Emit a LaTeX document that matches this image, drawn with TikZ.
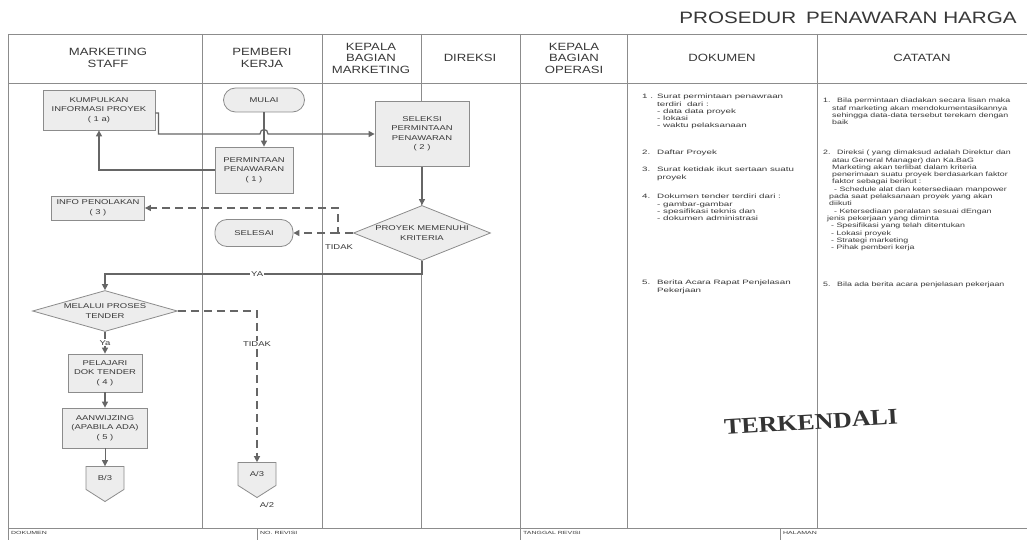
\documentclass[tikz,border=0pt]{standalone}
\usepackage{fontspec}
\setmainfont{Liberation Sans}
\newfontfamily\boxsans{Liberation Sans}[FakeStretch=1.35]
\newfontfamily\headsans{Liberation Sans}[FakeStretch=1.25]
\newfontfamily\notesans{Liberation Sans}[FakeStretch=1.55]
\newfontfamily\catsans{Liberation Sans}[FakeStretch=1.4]
\newfontfamily\stampserif{Liberation Serif}[FakeStretch=1.15]
\usetikzlibrary{shapes.geometric,shapes.symbols,arrows.meta}
\definecolor{rulegray}{gray}{0.55}
\definecolor{flowgray}{gray}{0.4}
\definecolor{fillgray}{gray}{0.93}
\definecolor{inkgray}{gray}{0.22}
\newcommand{\numb}[2][15pt]{\makebox[#1][l]{#2}}
\newcommand{\hang}[1][15pt]{\hspace*{#1}}

\begin{document}
\begin{tikzpicture}[x=1pt, y=-1pt,
    every node/.style={text=inkgray, font={\boxsans\fontsize{7}{9.5}\selectfont}},
    grid/.style={draw=rulegray, line width=0.8pt},
    proc/.style={draw=rulegray, fill=fillgray, line width=0.8pt, align=center, inner sep=1pt},
    term/.style={proc, rounded corners=12pt},
    decide/.style={proc, diamond, inner sep=0pt},
    offpage/.style={proc, signal, signal to=south, signal pointer angle=115, minimum width=38pt, minimum height=28pt},
    flow/.style={draw=flowgray, line width=1.2pt, -{Triangle[width=6pt,length=6pt]}},
    dashflow/.style={flow, dash pattern=on 8pt off 5pt},
    lbl/.style={fill=white, inner sep=1pt},
    head/.style={align=center, font={\headsans\fontsize{10.5}{11.5}\selectfont}},
    note/.style={anchor=north west, align=left, inner sep=0pt, font={\notesans\fontsize{6.3}{7.3}\selectfont}},
    catnote/.style={note, font={\catsans\fontsize{6.3}{7.3}\selectfont}},
    foot/.style={anchor=west, inner sep=0pt, font={\notesans\fontsize{4.5}{5}\selectfont}}
  ]
  \clip (0,0) rectangle (1027,540);
  \fill[white] (0,0) rectangle (1027,540);

  % kolom tabel
  \draw[grid] (8,34) -- (1027,34) (8,83) -- (1027,83) (8,528) -- (1027,528) (8,34) -- (8,540);
  \foreach \x in {202,322,421,520,627,817}
    \draw[grid] (\x,34) -- (\x,528);
  \foreach \x in {257,520,780}
    \draw[grid] (\x,528) -- (\x,540);

  \node[font={\headsans\fontsize{16.5}{17}\selectfont}] (judul) at (848,18) {PROSEDUR\hspace{0.6em}PENAWARAN HARGA};
  \foreach \cx/\nm/\txt in {108/hstaff/{MARKETING\\STAFF}, 262/hpemberi/{PEMBERI\\KERJA},
      371/hkabagm/{KEPALA\\BAGIAN\\MARKETING}, 470/hdireksi/DIREKSI, 574/hkabago/{KEPALA\\BAGIAN\\OPERASI},
      722/hdok/DOKUMEN, 922/hcat/CATATAN}
    \node[head] (\nm) at (\cx,58) {\txt};

  \node[foot] (fdok) at (11,533) {DOKUMEN};
  \node[foot] (frev) at (260,533) {NO. REVISI};
  \node[foot] (ftgl) at (523,533) {TANGGAL REVISI};
  \node[foot] (fhal) at (783,533) {HALAMAN};

  % bagan alir
  \node[proc, minimum width=112pt, minimum height=40pt] (kumpul) at (99,110) {KUMPULKAN\\INFORMASI PROYEK\\( 1 a)};
  \node[term, minimum width=81pt, minimum height=24pt] (mulai) at (264,100) {MULAI};
  \node[proc, minimum width=78pt, minimum height=46pt] (minta) at (254,170) {PERMINTAAN\\PENAWARAN\\( 1 )};
  \node[proc, minimum width=94pt, minimum height=65pt] (seleksi) at (422,134) {SELEKSI\\PERMINTAAN\\PENAWARAN\\( 2 )};
  \node[proc, minimum width=93pt, minimum height=24pt] (tolak) at (98,208) {INFO PENOLAKAN\\( 3 )};
  \node[term, minimum width=78pt, minimum height=27pt] (selesai) at (254,233) {SELESAI};
  \node[decide, aspect=2.5, minimum width=137pt, minimum height=55pt] (kriteria) at (422,233) {PROYEK MEMENUHI\\KRITERIA};
  \node[decide, aspect=3.5, minimum width=145pt, minimum height=41pt] (tender) at (105,311) {MELALUI PROSES\\TENDER};
  \node[proc, minimum width=74pt, minimum height=38pt] (pelajari) at (105,373) {PELAJARI\\DOK TENDER\\( 4 )};
  \node[proc, minimum width=85pt, minimum height=40pt] (aanw) at (105,428) {AANWIJZING\\(APABILA ADA)\\( 5 )};
  \node[offpage] (bthree) at (105,478) {B/3};
  \node[offpage] (athree) at (257,474) {A/3};
  \node (atwo) at (267,505) {A/2};
  \node (tidaka) at (339,247) {TIDAK};

  \coordinate (hop) at (264,134);
  \coordinate (cabang) at (338,233);
  \draw[flow] (mulai.south) -- (mulai.south |- minta.north);
  \draw[flow] ([yshift=-3pt]kumpul.east) -- ++(3,0) |- ([xshift=-4pt]hop)
    .. controls ([xshift=-4pt,yshift=6pt]hop) and ([xshift=4pt,yshift=6pt]hop) .. ([xshift=4pt]hop) -- (seleksi.west);
  \draw[flow] (minta.west) -| (kumpul.south);
  \draw[flow] (seleksi.south) -- (kriteria.north);
  \draw[dashflow] (kriteria.west) -- (cabang) |- (tolak.east);
  \draw[dashflow] (cabang) -- (selesai.east);
  \draw[flow, line width=2pt] (kriteria.south) -- ++(0,13) -| (tender.north) node[lbl, pos=0.26] {YA};
  \draw[flow] (tender.south) -- (pelajari.north) node[lbl, midway] {Ya};
  \draw[dashflow] (tender.east) -| (athree.north) node[lbl, pos=0.61] {TIDAK};
  \draw[flow] (pelajari) -- (aanw);
  \draw[flow, line width=0.6pt] (aanw) -- (bthree);

  % dokumen
  \node[note] (doka) at (642,94) {\numb{1 .}Surat permintaan penawraan\\\hang terdiri\ \ dari :\\\hang - data data proyek\\\hang - lokasi\\\hang - waktu pelaksanaan};
  \node[note] (dokb) at (642,150) {\numb{2.}Daftar Proyek};
  \node[note] (dokc) at (642,167) {\numb{3.}Surat ketidak ikut sertaan suatu\\\hang proyek};
  \node[note] (dokd) at (642,194) {\numb{4.}Dokumen tender terdiri dari :\\\hang - gambar-gambar\\\hang - spesifikasi teknis dan\\\hang - dokumen administrasi};
  \node[note] (doke) at (642,280) {\numb{5.}Berita Acara Rapat Penjelasan\\\hang Pekerjaan};

  % catatan
  \node[catnote] (cata) at (823,98) {\numb[14pt]{1.}Bila permintaan diadakan secara lisan maka\\\hang[9pt]staf marketing akan mendokumentasikannya\\\hang[9pt]sehingga data-data tersebut terekam dengan\\\hang[9pt]baik};
  \node[catnote] (catb) at (823,150) {\numb[14pt]{2.}Direksi ( yang dimaksud adalah Direktur dan\\
    \hang[9pt]atau General Manager) dan Ka.BaG\\
    \hang[9pt]Marketing akan terlibat dalam kriteria\\
    \hang[9pt]penerimaan suatu proyek berdasarkan faktor\\
    \hang[9pt]faktor sebagai berikut :\\
    \hang[11pt]- Schedule alat dan ketersediaan manpower\\
    \hang[6pt]pada saat pelaksanaan proyek yang akan\\
    \hang[6pt]diikuti\\
    \hang[11pt]- Ketersediaan peralatan sesuai dEngan\\
    \hang[4pt]jenis pekerjaan yang diminta\\
    \hang[8pt]- Spesifikasi yang telah ditentukan\\
    \hang[8pt]- Lokasi proyek\\
    \hang[8pt]- Strategi marketing\\
    \hang[8pt]- Pihak pemberi kerja};
  \node[catnote] (catc) at (823,282) {\numb[14pt]{5.}Bila ada berita acara penjelasan pekerjaan};

  \node[rotate=3.5, text=black!80, font={\stampserif\bfseries\fontsize{22.5}{24}\selectfont}] (stempel) at (811,422) {TERKENDALI};
\end{tikzpicture}
\end{document}
